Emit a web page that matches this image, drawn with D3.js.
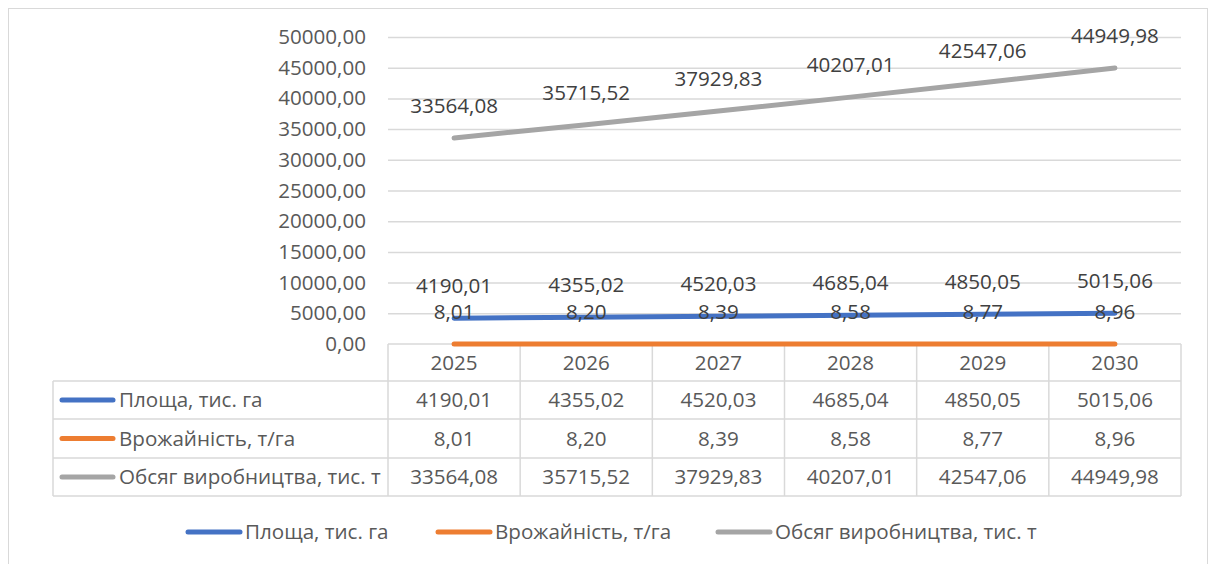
<!DOCTYPE html>
<html>
<head>
<meta charset="utf-8">
<script src="https://cdn.jsdelivr.net/npm/d3@7"></script>
<style>
	body { margin: 0; background: #fff; }
	svg { display: block; font-family: "Open Sans", sans-serif; }
</style>
</head>
<body>
<div id="chart"></div>
<script>
const years = ["2025", "2026", "2027", "2028", "2029", "2030"];
const seriesNames = ["Площа, тис. га", "Врожайність, т/га", "Обсяг виробництва, тис. т"];
const area = [4190.01, 4355.02, 4520.03, 4685.04, 4850.05, 5015.06];
const yieldVals = [8.01, 8.20, 8.39, 8.58, 8.77, 8.96];
const volume = [33564.08, 35715.52, 37929.83, 40207.01, 42547.06, 44949.98];
const yTicks = [0, 5000, 10000, 15000, 20000, 25000, 30000, 35000, 40000, 45000, 50000];
const colors = ["#4472C4", "#ED7D31", "#A5A5A5"];

const series = [area, yieldVals, volume];
const fmt = v => d3.format(".2f")(v).replace(".", ",");

const W = 1215, H = 564;
const plotLeft = 388, plotRight = 1181, plotTop = 37, plotBottom = 344;
const tableLeft = 53;
const rowTops = [344, 381, 419, 458, 496];
const fontSize = "20.6px";

const svg = d3.select("#chart").append("svg")
	.attr("width", W)
	.attr("height", H);

// outer frame
svg.append("rect")
	.attr("x", 8.5).attr("y", 8.5)
	.attr("width", 1199).attr("height", 570)
	.attr("fill", "#fff")
	.attr("stroke", "#d9d9d9");

const x = d3.scaleBand().domain(years).range([plotLeft, plotRight]);
const y = d3.scaleLinear().domain([0, 50000]).range([plotBottom, plotTop]);

// gridlines
svg.append("g")
	.selectAll("line")
	.data(yTicks.filter(t => t > 0))
	.enter()
	.append("line")
	.attr("x1", plotLeft).attr("x2", plotRight)
	.attr("y1", d => y(d) + 0.5).attr("y2", d => y(d) + 0.5)
	.attr("stroke", "#d9d9d9")
	.attr("stroke-width", 1.5);

// y axis labels
const yAxis = svg.append("g")
	.attr("transform", `translate(${plotLeft - 22},0)`)
	.call(d3.axisLeft(y).tickValues(yTicks).tickFormat(fmt).tickSize(0).tickPadding(0));
yAxis.select(".domain").remove();
yAxis.selectAll("text")
	.attr("fill", "#595959")
	.style("font-size", fontSize)
	.style("font-family", "'Open Sans', sans-serif");

// data table
const table = svg.append("g").attr("stroke", "#d9d9d9").attr("stroke-width", 1.5);
table.append("line")
	.attr("x1", plotLeft).attr("x2", plotRight)
	.attr("y1", rowTops[0]).attr("y2", rowTops[0]);
rowTops.slice(1).forEach(r => {
	table.append("line")
		.attr("x1", tableLeft).attr("x2", plotRight)
		.attr("y1", r).attr("y2", r);
});
table.append("line")
	.attr("x1", tableLeft).attr("x2", tableLeft)
	.attr("y1", rowTops[1]).attr("y2", rowTops[4]);
x.domain().forEach(d => {
	table.append("line")
		.attr("x1", x(d)).attr("x2", x(d))
		.attr("y1", rowTops[0]).attr("y2", rowTops[4]);
});
table.append("line")
	.attr("x1", plotRight).attr("x2", plotRight)
	.attr("y1", rowTops[0]).attr("y2", rowTops[4]);

// header years
svg.append("g")
	.selectAll("text")
	.data(years)
	.enter()
	.append("text")
	.attr("x", d => x(d) + x.bandwidth() / 2)
	.attr("y", (rowTops[0] + rowTops[1]) / 2)
	.attr("dy", "0.35em")
	.attr("text-anchor", "middle")
	.attr("fill", "#595959")
	.style("font-size", fontSize)
	.text(d => d);

// table rows
series.forEach((vals, i) => {
	const cy = (rowTops[i + 1] + rowTops[i + 2]) / 2;
	svg.append("line")
		.attr("x1", 62).attr("x2", 113)
		.attr("y1", cy).attr("y2", cy)
		.attr("stroke", colors[i])
		.attr("stroke-width", 5)
		.attr("stroke-linecap", "round");
	svg.append("text")
		.attr("x", 119).attr("y", cy)
		.attr("dy", "0.35em")
		.attr("fill", "#595959")
		.style("font-size", fontSize)
		.text(seriesNames[i]);
	svg.append("g")
		.selectAll("text")
		.data(vals)
		.enter()
		.append("text")
		.attr("x", (d, j) => x(years[j]) + x.bandwidth() / 2)
		.attr("y", cy)
		.attr("dy", "0.35em")
		.attr("text-anchor", "middle")
		.attr("fill", "#595959")
		.style("font-size", fontSize)
		.text(fmt);
});

// lines
const line = d3.line()
	.x((d, j) => x(years[j]) + x.bandwidth() / 2)
	.y(d => y(d));

series.forEach((vals, i) => {
	svg.append("path")
		.datum(vals)
		.attr("d", line)
		.attr("fill", "none")
		.attr("stroke", colors[i])
		.attr("stroke-width", 5)
		.attr("stroke-linecap", "round")
		.attr("stroke-linejoin", "round");
});

// data labels (drawn after lines)
series.forEach((vals, i) => {
	svg.append("g")
		.selectAll("text")
		.data(vals)
		.enter()
		.append("text")
		.attr("x", (d, j) => x(years[j]) + x.bandwidth() / 2)
		.attr("y", d => y(d) - 32)
		.attr("dy", "0.35em")
		.attr("text-anchor", "middle")
		.attr("fill", "#404040")
		.style("font-size", fontSize)
		.text(fmt);
});

// legend
const legendX = [188, 438, 718];
series.forEach((vals, i) => {
	svg.append("line")
		.attr("x1", legendX[i]).attr("x2", legendX[i] + 52)
		.attr("y1", 532).attr("y2", 532)
		.attr("stroke", colors[i])
		.attr("stroke-width", 5)
		.attr("stroke-linecap", "round");
	svg.append("text")
		.attr("x", legendX[i] + 57).attr("y", 532)
		.attr("dy", "0.35em")
		.attr("fill", "#595959")
		.style("font-size", fontSize)
		.text(seriesNames[i]);
});
</script>
</body>
</html>
